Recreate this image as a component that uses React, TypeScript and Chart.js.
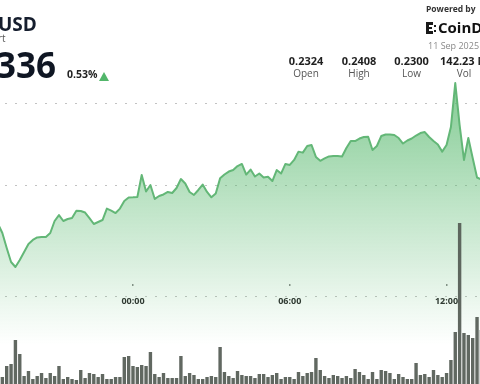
import { useEffect, useRef } from "react";
import { Chart, registerables } from "chart.js";

Chart.register(...registerables);

// ---- data ----
const times: string[] = [
  "18:50", "19:00", "19:10", "19:20", "19:30", "19:40", "19:50",
  "20:00", "20:10", "20:20", "20:30", "20:40", "20:50",
  "21:00", "21:10", "21:20", "21:30", "21:40", "21:50",
  "22:00", "22:10", "22:20", "22:30", "22:40", "22:50",
  "23:00", "23:10", "23:20", "23:30", "23:40", "23:50",
  "00:00", "00:10", "00:20", "00:30", "00:40", "00:50",
  "01:00", "01:10", "01:20", "01:30", "01:40", "01:50",
  "02:00", "02:10", "02:20", "02:30", "02:40", "02:50",
  "03:00", "03:10", "03:20", "03:30", "03:40", "03:50",
  "04:00", "04:10", "04:20", "04:30", "04:40", "04:50",
  "05:00", "05:10", "05:20", "05:30", "05:40", "05:50",
  "06:00", "06:10", "06:20", "06:30", "06:40", "06:50",
  "07:00", "07:10", "07:20", "07:30", "07:40", "07:50",
  "08:00", "08:10", "08:20", "08:30", "08:40", "08:50",
  "09:00", "09:10", "09:20", "09:30", "09:40", "09:50",
  "10:00", "10:10", "10:20", "10:30", "10:40", "10:50",
  "11:00", "11:10", "11:20", "11:30", "11:40", "11:50",
  "12:00", "12:10", "12:20", "12:30", "12:40", "12:50",
  "13:00", "13:10", "13:20",
];

const prices: number[] = [
  0.23271, 0.23217, 0.23127, 0.23042, 0.23012, 0.23054, 0.23102, 0.23151, 0.23175, 0.2319, 0.23193,
  0.23193, 0.23217, 0.23289, 0.23325, 0.23289, 0.23301, 0.23307, 0.23351, 0.23349, 0.2334,
  0.23307, 0.23271, 0.23283, 0.23295, 0.23364, 0.23352, 0.23337, 0.23364, 0.2341, 0.23431,
  0.23432, 0.23434, 0.23566, 0.23467, 0.23506, 0.23422, 0.2344, 0.23449, 0.23464, 0.23458,
  0.23488, 0.23542, 0.23515, 0.23464, 0.23446, 0.23476, 0.23509, 0.23464, 0.23432, 0.23455,
  0.23546, 0.23569, 0.23587, 0.23596, 0.2362, 0.23633, 0.23569, 0.23599, 0.23557, 0.23575,
  0.23551, 0.23556, 0.2353, 0.23596, 0.23575, 0.23633, 0.23627, 0.23657, 0.23707, 0.23701,
  0.23741, 0.23747, 0.23675, 0.23652, 0.23666, 0.23678, 0.23681, 0.23681, 0.23678, 0.23729,
  0.23771, 0.23771, 0.23786, 0.23795, 0.23797, 0.23717, 0.23741, 0.23801, 0.2381, 0.2381,
  0.23807, 0.23789, 0.23756, 0.23774, 0.23786, 0.23804, 0.23819, 0.23825, 0.23795, 0.23771,
  0.2375, 0.23707, 0.23747, 0.23855, 0.2412, 0.23867, 0.23657, 0.23789, 0.23669, 0.23551, 0.23539,
];

const volumes: number[] = [
  6, 7, 18, 20, 44, 30, 8, 13, 5, 8, 11,
  6, 11, 8, 18, 5, 7, 5, 4, 14, 6,
  11, 10, 7, 10, 5, 5, 7, 7, 27, 28,
  18, 17, 19, 18, 32, 10, 7, 11, 6, 6,
  6, 28, 8, 11, 9, 5, 5, 7, 8, 7,
  37, 12, 8, 6, 13, 9, 8, 8, 6, 10,
  10, 7, 9, 11, 5, 7, 7, 5, 12, 8,
  11, 12, 26, 14, 8, 6, 9, 8, 6, 8,
  6, 15, 12, 9, 5, 12, 5, 14, 13, 11,
  5, 10, 7, 5, 5, 21, 9, 10, 7, 14,
  9, 7, 11, 24, 52, 161, 51, 49, 46, 67, 54,
];

const tickLabels: string[] = ["00:00", "06:00", "12:00"];
const priceGridValues: number[] = [0.235, 0.24];

const statValues: string[] = ["0.2324", "0.2408", "0.2300", "142.23 M"];
const statLabels: string[] = ["Open", "High", "Low", "Vol"];

// ---- layout constants ----
const X_MIN = -305.4;
const X_MAX = 796.8;
const Y_MIN = 0.223072;
const Y_MAX = 0.246205;
const AXIS_BASE = 0.228373;
const VOL_MAX = 384;
const statCenters = [306, 359, 411.5, 464];

function toMinutes(t: string): number {
  const [h, m] = t.split(":").map(Number);
  const v = h * 60 + m;
  return h >= 18 ? v - 1440 : v;
}

const FONT = "'Open Sans', sans-serif";

export default function App() {
  const ref = useRef<HTMLCanvasElement>(null);

  useEffect(() => {
    const canvas = ref.current;
    if (!canvas) return;
    const xs = times.map(toMinutes);
    const tickValues = tickLabels.map(toMinutes);

    const chart = new Chart(canvas, {
      type: "bar",
      data: {
        datasets: [
          {
            type: "bar",
            data: xs.map((x, i) => ({ x, y: volumes[i] })),
            yAxisID: "yVol",
            backgroundColor: "rgba(84,91,84,0.92)",
            barPercentage: 0.78,
            categoryPercentage: 1,
            order: 0,
          } as any,
          {
            type: "line",
            data: xs.map((x, i) => ({ x, y: prices[i] })),
            yAxisID: "y",
            borderColor: "#63b777",
            borderWidth: 2,
            pointRadius: 0,
            tension: 0,
            borderJoinStyle: "round",
            fill: "start",
            backgroundColor: (c: any) => {
              const ch = c.chart;
              if (!ch.chartArea) return "rgba(88,185,110,0.3)";
              const g = ch.ctx.createLinearGradient(0, 80, 0, 345);
              g.addColorStop(0, "rgba(88,185,110,0.75)");
              g.addColorStop(0.45, "rgba(88,185,110,0.4)");
              g.addColorStop(0.83, "rgba(88,185,110,0.12)");
              g.addColorStop(1, "rgba(88,185,110,0)");
              return g;
            },
            order: 1,
          } as any,
        ],
      },
      options: {
        responsive: false,
        animation: false,
        events: [],
        layout: { padding: 0 },
        plugins: { legend: { display: false }, tooltip: { enabled: false }, title: { display: false } },
        scales: {
          x: {
            type: "linear",
            min: X_MIN,
            max: X_MAX,
            offset: false,
            position: { y: AXIS_BASE } as any,
            grid: {
              display: true,
              drawOnChartArea: true,
              drawTicks: false,
              offset: false,
              color: "#8a8a8a",
              lineWidth: 1.5,
            },
            border: { display: false, dash: [2, 1000], dashOffset: -284 },
            ticks: {
              padding: 0,
              maxRotation: 0,
              autoSkip: false,
              color: "#2a2a2a",
              font: { family: "'Open Sans'", size: 9, weight: "bold" },
              callback: (v: any) => {
                const i = tickValues.indexOf(Number(v));
                return i >= 0 ? tickLabels[i] : "";
              },
            },
            afterBuildTicks: (s: any) => {
              s.ticks = tickValues.map((v) => ({ value: v }));
            },
          } as any,
          y: {
            type: "linear",
            position: "left",
            min: Y_MIN,
            max: Y_MAX,
            ticks: { display: false },
            grid: { color: "#c2c2c2", lineWidth: 1, drawTicks: false },
            border: { display: false, dash: [2, 8], dashOffset: -5 },
            afterBuildTicks: (s: any) => {
              s.ticks = [AXIS_BASE, ...priceGridValues].map((v) => ({ value: v }));
            },
          } as any,
          yVol: {
            type: "linear",
            position: "right",
            display: false,
            min: 0,
            max: VOL_MAX,
          },
        },
      },
    });
    return () => chart.destroy();
  }, []);

  const abs = (s: any) => ({ position: "absolute" as const, whiteSpace: "nowrap" as const, lineHeight: 1, ...s });

  return (
    <div
      style={{
        position: "fixed",
        left: 0,
        top: 0,
        width: 480,
        height: 384,
        overflow: "hidden",
        background: "#fff",
        fontFamily: FONT,
      }}
    >
      <canvas
        ref={ref}
        width={480}
        height={384}
        style={{ position: "absolute", left: 0, top: 0, width: 480, height: 384 }}
      />
      <div style={abs({ left: -2, top: 15, fontSize: 19, fontWeight: 700, color: "#161e2e" })}>USD</div>
      <div style={abs({ left: -2, top: 33, fontSize: 10, color: "#555" })}>rt</div>
      <div style={abs({ left: -4, top: 47, fontSize: 35, fontWeight: 700, color: "#0f1623" })}>336</div>
      <div style={abs({ left: 67, top: 69, fontSize: 10.5, fontWeight: 700, color: "#222" })}>0.53%</div>
      <div
        style={{
          position: "absolute",
          left: 99,
          top: 72,
          width: 0,
          height: 0,
          borderLeft: "5px solid transparent",
          borderRight: "5px solid transparent",
          borderBottom: "9px solid #52b66a",
        }}
      />
      <div style={abs({ left: 426, top: 4.5, fontSize: 8.5, fontWeight: 700, color: "#333" })}>Powered by</div>
      {/* CoinDesk mark */}
      <div style={{ position: "absolute", left: 426, top: 22, width: 3, height: 12, background: "#1a1a1a" }} />
      <div style={{ position: "absolute", left: 426, top: 22, width: 7, height: 3, background: "#1a1a1a" }} />
      <div style={{ position: "absolute", left: 426, top: 31, width: 7, height: 3, background: "#1a1a1a" }} />
      <div style={{ position: "absolute", left: 429, top: 27, width: 3, height: 2, background: "#1a1a1a" }} />
      <div style={{ position: "absolute", left: 434, top: 25, width: 2, height: 2, background: "#1a1a1a" }} />
      <div style={{ position: "absolute", left: 434, top: 30, width: 2, height: 2, background: "#1a1a1a" }} />
      <div style={abs({ left: 438, top: 20, fontSize: 15, fontWeight: 700, color: "#111" })}>CoinDesk</div>
      <div style={abs({ left: 428, top: 40.5, fontSize: 9, color: "#8a8a8a" })}>11 Sep 2025</div>
      {statValues.map((v, i) => (
        <div
          key={"v" + i}
          style={abs({
            left: statCenters[i] - 40,
            width: 80,
            textAlign: "center",
            top: 55.4,
            fontSize: 11,
            fontWeight: 700,
            color: "#1f1f1f",
          })}
        >
          {v}
        </div>
      ))}
      {statLabels.map((v, i) => (
        <div
          key={"l" + i}
          style={abs({
            left: statCenters[i] - 40,
            width: 80,
            textAlign: "center",
            top: 68,
            fontSize: 10,
            color: "#555",
          })}
        >
          {v}
        </div>
      ))}
    </div>
  );
}
